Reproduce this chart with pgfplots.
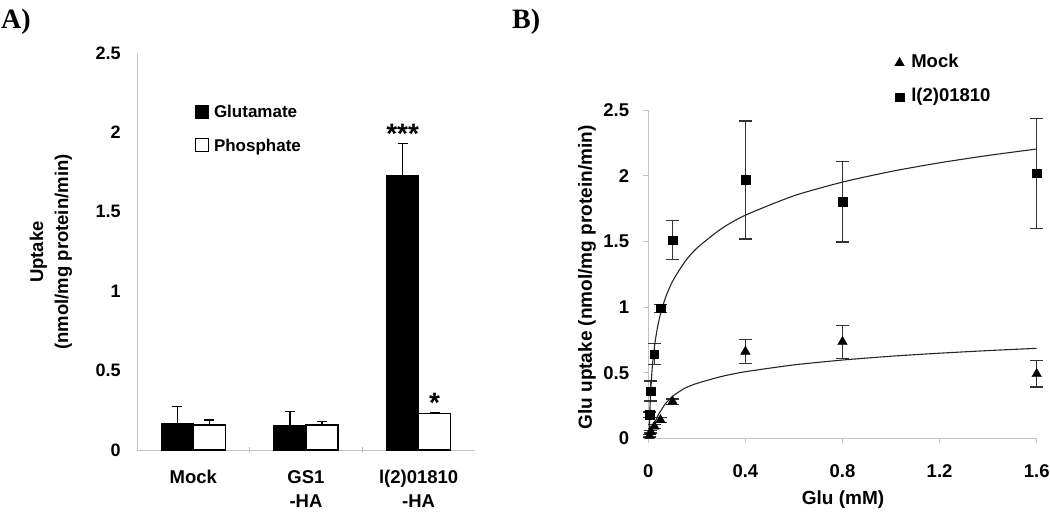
\documentclass[border=0pt]{standalone}
\usepackage{fontspec}
\setmainfont{Liberation Sans}
\newfontfamily\timesf{Liberation Serif}
\usepackage{pgfplots}
\pgfplotsset{compat=1.18}
\definecolor{axgray}{RGB}{195,195,195}
\newcommand{\fs}[1]{\fontsize{#1}{#1}\selectfont\bfseries}

\pgfplotstableread{
x  y      e
0  0.168  0.105
1  0.151  0.090
2  1.727  0.204
}\glutab
\pgfplotstableread{
x  y      e
0  0.157  0.032
1  0.157  0.021
2  0.231  0.006
}\phostab
\pgfplotstableread{
x      y      e
0.005  0.180  0.020
0.010  0.360  0.076
0.025  0.640  0.080
0.050  0.990  0.030
0.100  1.510  0.147
0.400  1.967  0.450
0.800  1.800  0.305
1.600  2.018  0.420
}\ltab
\pgfplotstableread{
x      y      e
0.005  0.020  0.010
0.010  0.050  0.010
0.025  0.090  0.015
0.050  0.140  0.020
0.100  0.280  0.020
0.400  0.660  0.090
0.800  0.735  0.125
1.600  0.490  0.100
}\mtab

\begin{document}
\begin{tikzpicture}[x=1pt,y=1pt]
\useasboundingbox (0,0) rectangle (1050,512);
\node[anchor=west,inner sep=0pt,font=\timesf\fontsize{28}{28}\selectfont\bfseries] at (1,490) {A)};
\node[anchor=west,inner sep=0pt,font=\timesf\fontsize{28}{28}\selectfont\bfseries] at (512,490) {B)};

% ---------------- Panel A
\begin{axis}[
  at={(137pt,62pt)}, anchor=south west, scale only axis,
  width=338pt, height=397pt,
  xmin=-0.5, xmax=2.5, ymin=0, ymax=2.5,
  ybar, bar width=32pt,
  axis x line=bottom, axis y line=left,
  axis line style={axgray, line width=1pt, -},
  /pgf/number format/assume math mode=true,
  ytick={0,0.5,1,1.5,2,2.5},
  yticklabels={0,0.5,1,1.5,2,2.5},
  ytick style={draw=none},
  yticklabel style={font=\fs{18}, anchor=east, inner sep=0pt, xshift=-14pt},
  xtick={0,1,2},
  xticklabels={Mock,{GS1\\-HA},{l(2)01810\\-HA}},
  xtick style={draw=none},
  xticklabel style={font=\fontsize{18.5}{24}\selectfont\bfseries, align=center, anchor=north, inner sep=0pt, yshift=-18pt},
  extra x ticks={0.5,1.5},
  extra x tick labels={},
  extra x tick style={xtick style={draw=axgray, line width=0.8pt}, major tick length=6pt, tick align=center},
  legend style={draw=none, fill=none, at={(0.1716,0.870)}, anchor=north west,
    inner sep=0pt, outer sep=0pt, row sep=17.4pt, column sep=5pt,
    font=\fs{17}, nodes={inner sep=0pt, text height=12pt, text depth=3pt}},
  legend cell align=left,
  clip=false,
]
\addplot[fill=black, draw=black, line width=1.2pt, bar shift=-16pt,
  legend image code/.code={\draw[fill=black, draw=black, line width=1pt] (0pt,-4.9pt) rectangle (13pt,8.1pt);},
  error bars/.cd, y dir=plus, y explicit,
  error bar style={line width=1.2pt, black},
  error mark options={rotate=90, mark size=5pt, line width=1.2pt, black}]
  table[x=x, y=y, y error=e] {\glutab};
\addlegendentry{Glutamate}
\addplot[fill=white, draw=black, line width=1.2pt, bar shift=16pt,
  legend image code/.code={\draw[fill=white, draw=black, line width=1pt] (0pt,-4.9pt) rectangle (13pt,8.1pt);},
  error bars/.cd, y dir=plus, y explicit,
  error bar style={line width=1.2pt, black},
  error mark options={rotate=90, mark size=5pt, line width=1.2pt, black}]
  table[x=x, y=y, y error=e] {\phostab};
\addlegendentry{Phosphate}
\node[anchor=base, inner sep=0pt, font=\fs{28}] at (axis cs:1.858,1.927) {***};
\node[anchor=base, inner sep=0pt, font=\fs{28}] at (axis cs:2.142,0.239) {*};
\end{axis}

\node[rotate=90, align=center, inner sep=0pt, font=\fontsize{18.5}{25}\selectfont\bfseries] at (51,260) {Uptake\\(nmol/mg protein/min)};

% ---------------- Panel B
\begin{axis}[
  at={(648.3pt,73.7pt)}, anchor=south west, scale only axis,
  width=388.4pt, height=328.3pt,
  xmin=0, xmax=1.6, ymin=0, ymax=2.5,
  axis x line=bottom, axis y line=left,
  axis line style={axgray, line width=1pt, -},
  /pgf/number format/assume math mode=true,
  xtick={0,0.4,0.8,1.2,1.6},
  xticklabels={0,0.4,0.8,1.2,1.6},
  ytick={0,0.5,1,1.5,2,2.5},
  yticklabels={0,0.5,1,1.5,2,2.5},
  tick style={axgray, line width=0.8pt},
  major tick length=5pt, tick align=outside,
  yticklabel style={font=\fs{18.5}, anchor=east, inner sep=0pt, xshift=-14pt},
  xticklabel style={font=\fs{18.5}, anchor=north, inner sep=0pt, yshift=-21.5pt},
  legend style={draw=none, fill=none, at={(0.6346,1.166)}, anchor=north west,
    inner sep=0pt, outer sep=0pt, row sep=19pt, column sep=7pt,
    font=\fs{18.5}, nodes={inner sep=0pt, text height=12pt, text depth=3pt}},
  legend cell align=left,
  clip=false,
]
\addplot[only marks, mark=triangle*, mark size=5.5pt, black,
  legend image code/.code={\draw[only marks, mark=triangle*, mark size=5.5pt, black] plot coordinates {(0pt,0pt)};},
  error bars/.cd, y dir=both, y explicit,
  error bar style={line width=1.2pt, black!80},
  error mark options={rotate=90, mark size=6.5pt, line width=1.2pt, black!80}]
  table[x=x, y=y, y error=e] {\mtab};
\addlegendentry{Mock}
\addplot[only marks, mark=square*, mark size=4.3pt, black,
  legend image code/.code={\draw[only marks, mark=square*, mark size=4.3pt, black] plot coordinates {(0pt,0pt)};},
  error bars/.cd, y dir=both, y explicit,
  error bar style={line width=1.2pt, black!80},
  error mark options={rotate=90, mark size=6.5pt, line width=1.2pt, black!80}]
  table[x=x, y=y, y error=e] {\ltab};
\addlegendentry{l(2)01810}
% fitted curves
\addplot[forget plot, black!85, line width=1.1pt, smooth, tension=0.4] coordinates {
(0.004,0.028) (0.005,0.109) (0.0075,0.256) (0.010,0.360) (0.015,0.507) (0.020,0.612)
(0.030,0.759) (0.040,0.864) (0.050,0.945) (0.070,1.067) (0.100,1.196) (0.150,1.343)
(0.200,1.448) (0.300,1.595) (0.400,1.699) (0.600,1.847) (0.800,1.951) (1.000,2.032)
(1.200,2.098) (1.400,2.154) (1.600,2.203)};
\addplot[forget plot, black!85, line width=1.1pt, smooth, tension=0.4] coordinates {
(0.014,0.045) (0.020,0.085) (0.028,0.125) (0.040,0.175) (0.050,0.205) (0.070,0.262)
(0.100,0.320) (0.150,0.381) (0.200,0.418) (0.300,0.470) (0.400,0.507) (0.600,0.559)
(0.800,0.596) (1.000,0.625) (1.200,0.648) (1.400,0.668) (1.600,0.685)};
\end{axis}

\node[rotate=90, inner sep=0pt, font=\fs{19}] at (587,234.5) {Glu uptake (nmol/mg protein/min)};
\node[inner sep=0pt, font=\fs{19}] at (843,12) {Glu (mM)};
\end{tikzpicture}
\end{document}
